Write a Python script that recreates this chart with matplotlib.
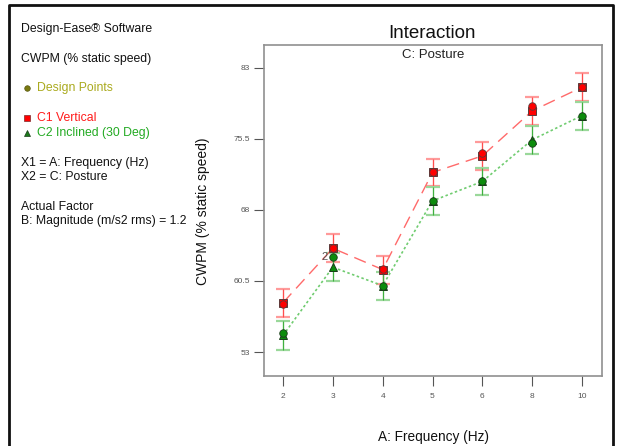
import matplotlib
matplotlib.use("Agg")
import matplotlib.pyplot as plt
from matplotlib.lines import Line2D

plt.rcParams['font.family'] = ['Liberation Sans', 'DejaVu Sans']

# ---- data ----
freq_labels = ['2', '3', '4', '5', '6', '8', '10']
c1_pred = [58.2, 63.95, 61.7, 71.95, 73.7, 78.45, 80.95]
c2_pred = [54.75, 61.95, 60.0, 68.95, 71.0, 75.4, 77.95]
c1_lsd = [1.5, 1.47, 1.47, 1.47, 1.5, 1.45, 1.48]
c2_lsd = [1.5, 1.5, 1.48, 1.46, 1.45, 1.5, 1.48]
c1_design = [58.05, 63.95, 61.8, 71.95, 74.0, 79.0, 80.95]
c2_design = [55.0, 63.0, 60.0, 68.95, 71.0, 75.1, 77.95]
y_ticks = [53, 60.5, 68, 75.5, 83]
y_tick_labels = ['53', '60.5', '68', '75.5', '83']

W, H = 619, 446
fig = plt.figure(figsize=(W / 100, H / 100), dpi=100)
fig.patch.set_facecolor('white')

def fx(px):
    return px / W

def fy(py):
    return 1 - py / H

ax = fig.add_axes([fx(264), fy(376), fx(602) - fx(264), fy(45) - fy(376)])
x = list(range(len(freq_labels)))

red = '#ff0000'
red_light = '#ff9a9a'
red_line = '#ff6a6a'
green_light = '#9ad89a'
green_line = '#70cc70'

# error bars
ax.errorbar(x, c1_pred, yerr=c1_lsd, fmt='none', ecolor=red_light, elinewidth=1.0,
            capsize=4.8, capthick=1.6, zorder=2)
ax.vlines(x, [p - e for p, e in zip(c1_pred, c1_lsd)], [p + e for p, e in zip(c1_pred, c1_lsd)],
          colors='#ff4d4d', linewidth=0.8, zorder=2)
ax.errorbar(x, c2_pred, yerr=c2_lsd, fmt='none', ecolor=green_light, elinewidth=1.0,
            capsize=4.8, capthick=1.6, zorder=2)
ax.vlines(x, [p - e for p, e in zip(c2_pred, c2_lsd)], [p + e for p, e in zip(c2_pred, c2_lsd)],
          colors='#3fb03f', linewidth=0.8, zorder=2)

# lines
ax.plot(x, c1_pred, color=red_line, linestyle=(0, (9, 5)), linewidth=1.0, zorder=3)
ax.plot(x, c2_pred, color=green_line, linestyle=(0, (1.5, 1.5)), linewidth=1.2, zorder=3)

# predicted markers
ax.plot(x, c1_pred, linestyle='none', marker='s', markersize=6.4, markerfacecolor=red,
        markeredgecolor='#5a3a3a', markeredgewidth=0.7, zorder=4)
ax.plot(x, c2_pred, linestyle='none', marker='^', markersize=6.4, markerfacecolor='#0c8c0c',
        markeredgecolor='#1a3a1a', markeredgewidth=0.7, zorder=4)

# design points
ax.plot(x, c1_design, linestyle='none', marker='o', markersize=5.4, markerfacecolor=red,
        markeredgecolor='#5a3a3a', markeredgewidth=0.6, zorder=5)
ax.plot(x, c2_design, linestyle='none', marker='o', markersize=5.4, markerfacecolor='#0c8c0c',
        markeredgecolor='#1a3a1a', markeredgewidth=0.6, zorder=5)
ax.annotate('2', (x[1], c2_design[1]), xytext=(-6, 0), textcoords='offset points',
            ha='center', va='center', fontsize=8, color='#555555', zorder=6)

ax.set_xlim(-0.38, 6.4)
ax.set_ylim(50.47, 85.4)
ax.set_xticks(x)
ax.set_xticklabels(freq_labels)
ax.set_yticks(y_ticks)
ax.set_yticklabels(y_tick_labels)
ax.tick_params(axis='both', direction='out', length=7, width=0.8, color='#555555',
               labelsize=6, labelcolor='#555555', pad=3)
ax.tick_params(axis='x', pad=5)
for s in ax.spines.values():
    s.set_color('#909090')
    s.set_linewidth(1.2)

ax.text(0.5, 1 - (55 - 45) / 331, 'C: Posture', transform=ax.transAxes, ha='center',
        va='center', fontsize=9.5, color='#222222')

# titles / axis labels
fig.text(fx(432), fy(34), 'Interaction', ha='center', va='center', fontsize=13.5, color='#111111')
fig.text(fx(433), fy(437), 'A: Frequency (Hz)', ha='center', va='center', fontsize=9.8, color='#111111')
fig.text(fx(203), fy(211), 'CWPM (% static speed)', ha='center', va='center', rotation=90,
         fontsize=10, color='#111111')

# left annotation panel
tfs = 8.8
fig.text(fx(21), fy(29), 'Design-Ease® Software', ha='left', va='center', fontsize=tfs, color='#111111')
fig.text(fx(21), fy(59), 'CWPM (% static speed)', ha='left', va='center', fontsize=tfs, color='#111111')
fig.text(fx(37), fy(88), 'Design Points', ha='left', va='center', fontsize=tfs, color='#aaaa1e')
fig.text(fx(37), fy(118), 'C1 Vertical', ha='left', va='center', fontsize=tfs, color='#ff1a1a')
fig.text(fx(37), fy(133), 'C2 Inclined (30 Deg)', ha='left', va='center', fontsize=tfs, color='#22aa22')
fig.text(fx(21), fy(163), 'X1 = A: Frequency (Hz)', ha='left', va='center', fontsize=tfs, color='#111111')
fig.text(fx(21), fy(177), 'X2 = C: Posture', ha='left', va='center', fontsize=tfs, color='#111111')
fig.text(fx(21), fy(207), 'Actual Factor', ha='left', va='center', fontsize=tfs, color='#111111')
fig.text(fx(21), fy(221), 'B: Magnitude (m/s2 rms) = 1.2', ha='left', va='center', fontsize=tfs, color='#111111')

fig.add_artist(Line2D([fx(27)], [fy(88)], marker='o', markersize=4, markerfacecolor='#7a7a10',
                      markeredgecolor='#555510', markeredgewidth=0.5, linestyle='none',
                      transform=fig.transFigure))
fig.add_artist(Line2D([fx(27)], [fy(118)], marker='s', markersize=4.5, markerfacecolor='#ff0000',
                      markeredgecolor='#7a2a2a', markeredgewidth=0.5, linestyle='none',
                      transform=fig.transFigure))
fig.add_artist(Line2D([fx(27)], [fy(133)], marker='^', markersize=5, markerfacecolor='#1a7a1a',
                      markeredgecolor='#1a3a1a', markeredgewidth=0.5, linestyle='none',
                      transform=fig.transFigure))

# outer frame (left, top, right)
fig.add_artist(Line2D([fx(9), fx(9), fx(613), fx(613)], [0, fy(5), fy(5), 0],
                      color='#111111', linewidth=2.0, transform=fig.transFigure))

fig.savefig('out.png', dpi=100, facecolor='white')
